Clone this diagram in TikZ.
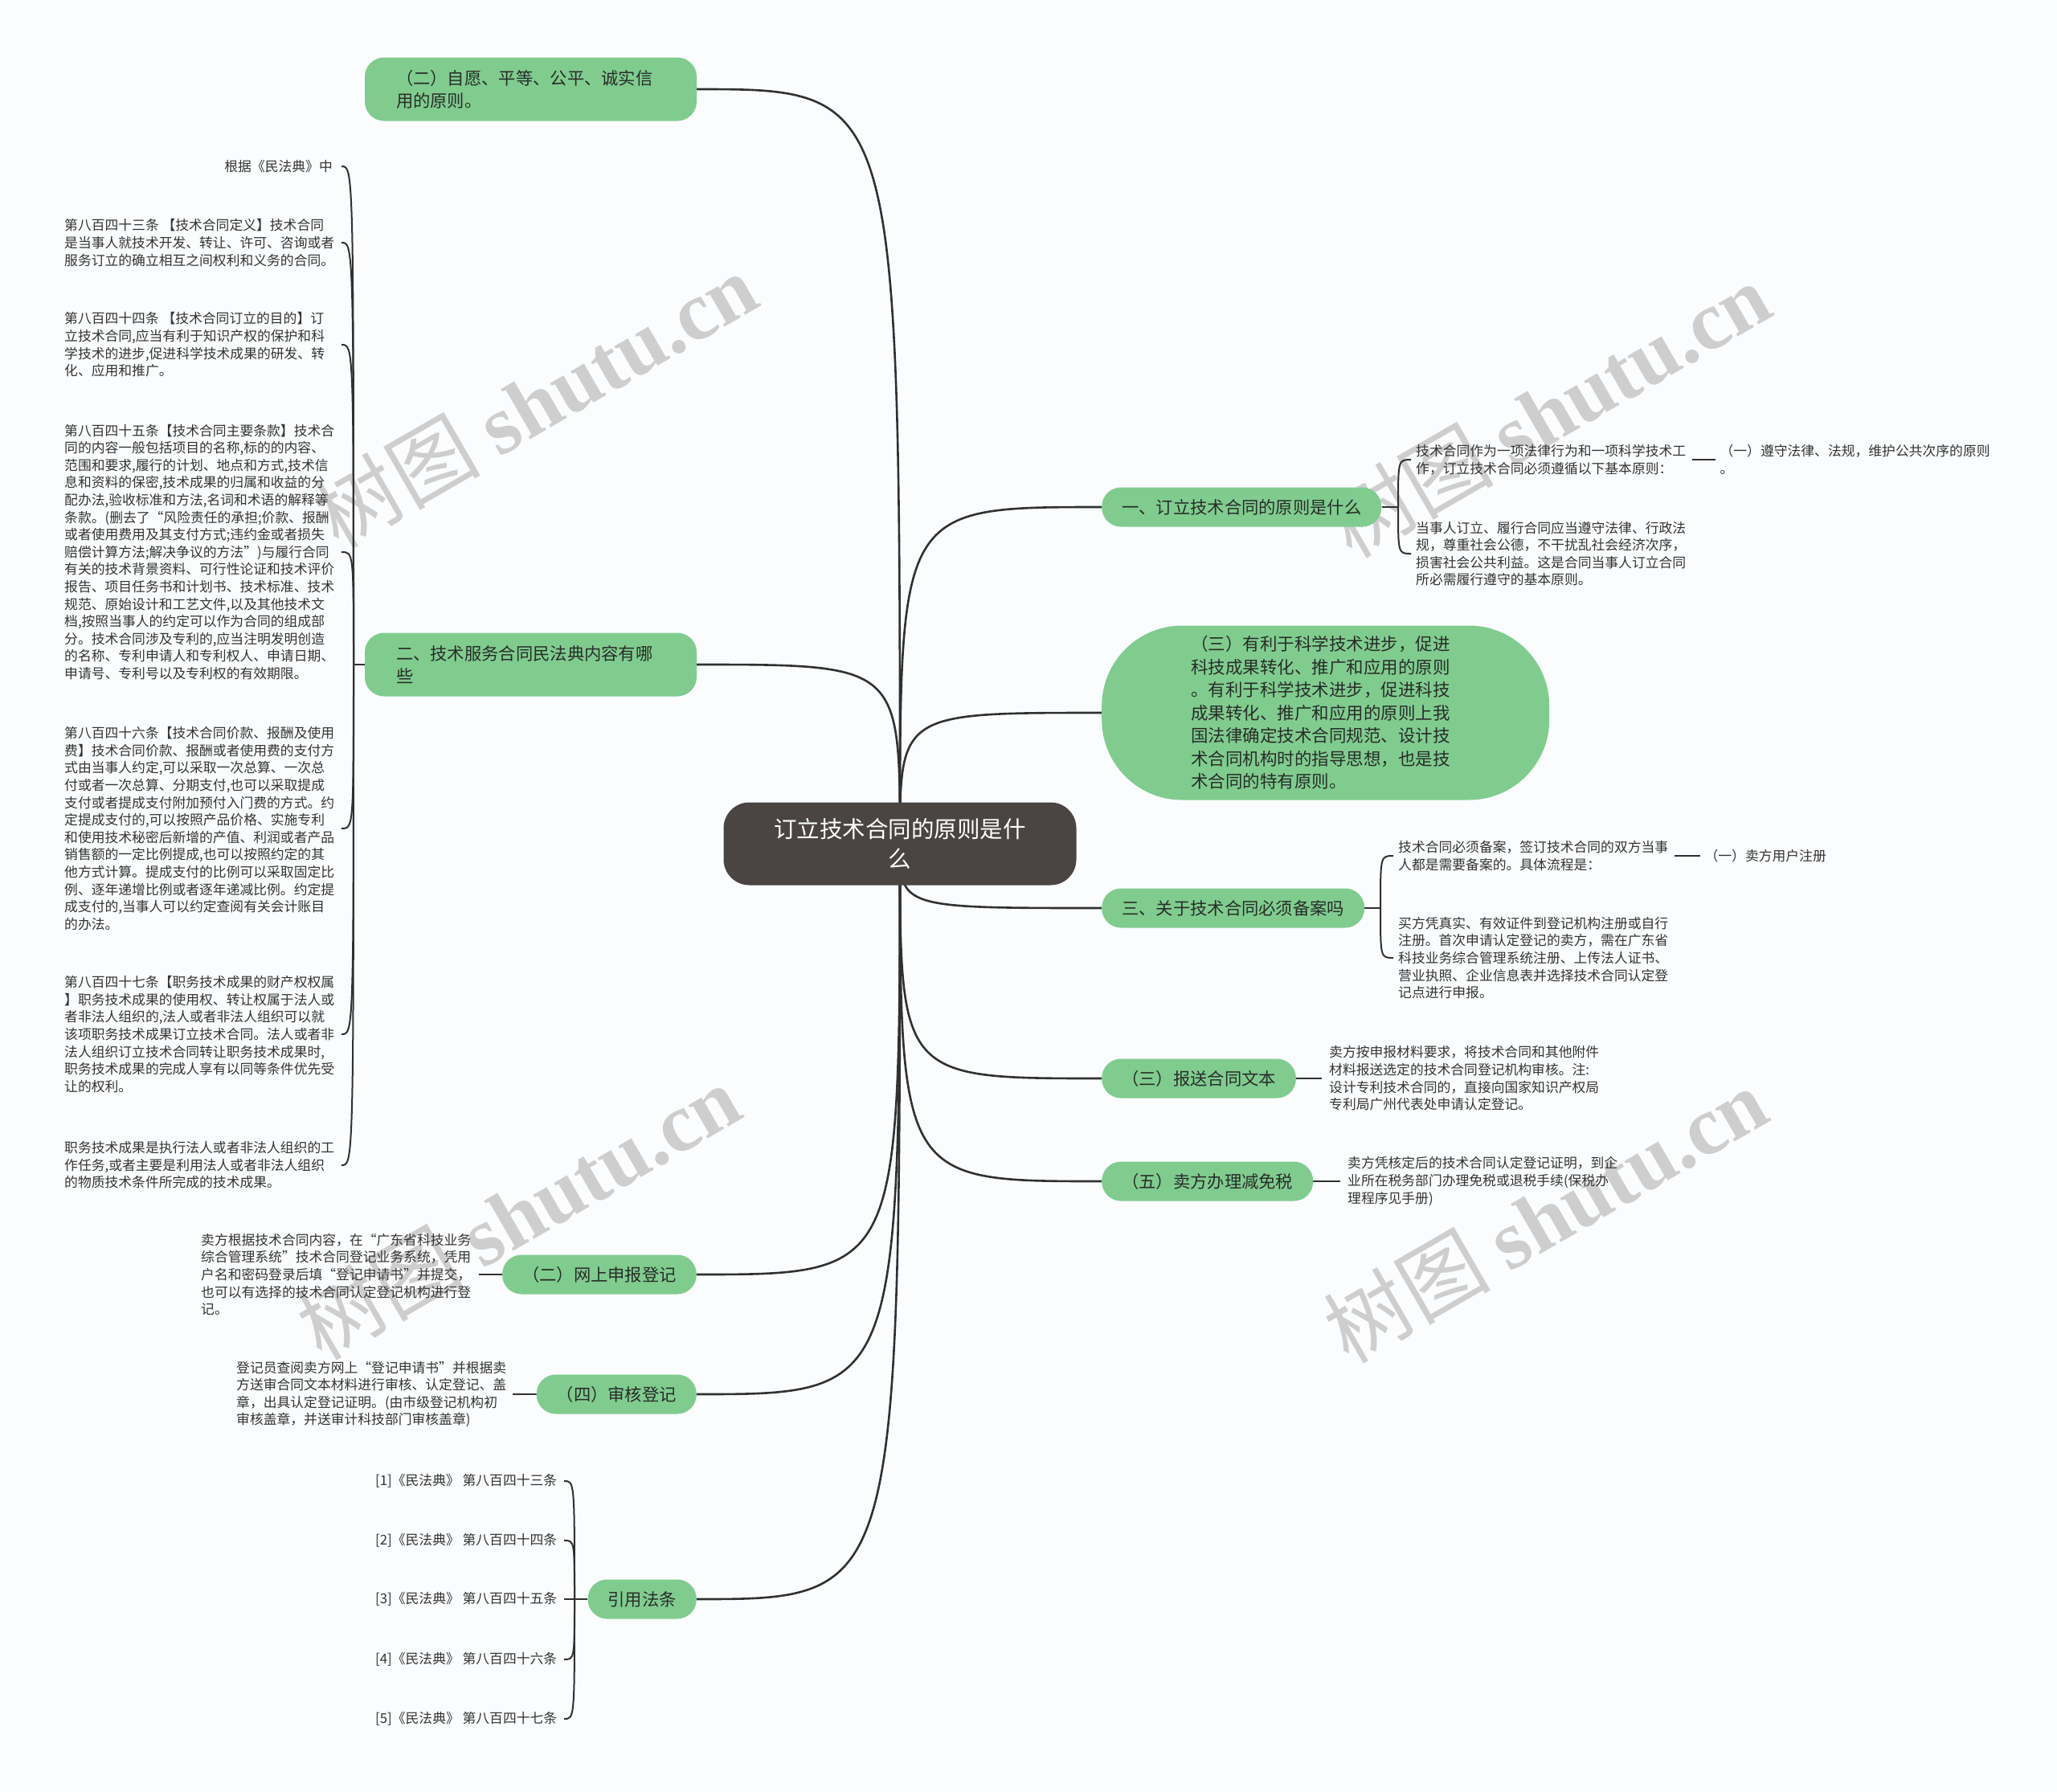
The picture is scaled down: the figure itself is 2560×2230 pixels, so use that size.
\documentclass[tikz,border=0pt]{standalone}
\usepackage{fontspec}
\setmainfont{Noto Sans CJK SC}
\newfontfamily\wmlatin{Liberation Serif}
\usetikzlibrary{positioning, backgrounds}

\definecolor{bgcol}{RGB}{250,252,253}
\definecolor{rootgray}{RGB}{74,69,67}
\definecolor{topicgreen}{RGB}{128,204,143}
\definecolor{topictext}{RGB}{40,44,40}
\definecolor{leaftext}{RGB}{51,51,51}
\definecolor{linecol}{RGB}{48,48,48}
\definecolor{wmgray}{RGB}{206,206,206}

\begin{document}
\begin{tikzpicture}[
  x=1pt, y=-1pt,
  root/.style={
    rectangle, rounded corners=32pt, fill=rootgray, text=white,
    align=center, minimum width=439pt, minimum height=103pt,
    font=\fontsize{28.5}{37.5}\selectfont
  },
  topic/.style={
    rectangle, rounded corners=24pt, fill=topicgreen, text=topictext,
    align=left, minimum height=49pt, inner xsep=25pt,
    font=\fontsize{21.3}{28}\selectfont
  },
  topicwide/.style={topic, text width=335pt, inner xsep=39pt, minimum height=79pt},
  bigtopic/.style={
    topic, rounded corners=100pt, text width=335pt, inner xsep=111pt,
    minimum height=217pt, font=\fontsize{21.5}{28.5}\selectfont
  },
  leaf/.style={
    inner sep=0pt, align=left, text=leaftext,
    font=\fontsize{16.8}{21.6}\selectfont
  },
  link/.style={draw=linecol, line width=2.6pt},
  twig/.style={draw=linecol, line width=2pt},
  wmark/.style={text=wmgray, rotate=30, font=\fontsize{104}{104}\selectfont}
]
\useasboundingbox (0,0) rectangle (2560,2230);

% root
\node[root] (root) at (1120,1050) {订立技术合同的原则是什\\么};

% left topics
\node[topicwide] (t1) at (660.5,111) {（二）自愿、平等、公平、诚实信\\用的原则。};
\node[topicwide] (t2) at (660.5,827) {二、技术服务合同民法典内容有哪\\些};
\node[topic, anchor=east] (t3) at (867,1586) {（二）网上申报登记};
\node[topic, anchor=east] (t4) at (867,1735) {（四）审核登记};
\node[topic, anchor=east] (t5) at (867,1990) {引用法条};

% right topics
\node[topic, anchor=west] (b1) at (1371,631) {一、订立技术合同的原则是什么};
\node[bigtopic, anchor=west] (b2) at (1371,887) {（三）有利于科学技术进步，促进\\科技成果转化、推广和应用的原则\\。有利于科学技术进步，促进科技\\成果转化、推广和应用的原则上我\\国法律确定技术合同规范、设计技\\术合同机构时的指导思想，也是技\\术合同的特有原则。};
\node[topic, anchor=west] (b3) at (1371,1130) {三、关于技术合同必须备案吗};
\node[topic, anchor=west] (b4) at (1371,1342) {（三）报送合同文本};
\node[topic, anchor=west] (b5) at (1371,1470) {（五）卖方办理减免税};

% leaves of t2
\node[leaf, anchor=east] (la0) at (414,207) {根据《民法典》中};
\node[leaf, anchor=west] (la1) at (80,302) {第八百四十三条 【技术合同定义】技术合同\\是当事人就技术开发、转让、许可、咨询或者\\服务订立的确立相互之间权利和义务的合同。};
\node[leaf, anchor=west] (la2) at (80,429) {第八百四十四条 【技术合同订立的目的】订\\立技术合同,应当有利于知识产权的保护和科\\学技术的进步,促进科学技术成果的研发、转\\化、应用和推广。};
\node[leaf, anchor=west] (la3) at (80,687) {第八百四十五条【技术合同主要条款】技术合\\同的内容一般包括项目的名称,标的的内容、\\范围和要求,履行的计划、地点和方式,技术信\\息和资料的保密,技术成果的归属和收益的分\\配办法,验收标准和方法,名词和术语的解释等\\条款。(删去了“风险责任的承担;价款、报酬\\或者使用费用及其支付方式;违约金或者损失\\赔偿计算方法;解决争议的方法”)与履行合同\\有关的技术背景资料、可行性论证和技术评价\\报告、项目任务书和计划书、技术标准、技术\\规范、原始设计和工艺文件,以及其他技术文\\档,按照当事人的约定可以作为合同的组成部\\分。技术合同涉及专利的,应当注明发明创造\\的名称、专利申请人和专利权人、申请日期、\\申请号、专利号以及专利权的有效期限。};
\node[leaf, anchor=west] (la4) at (80,1031) {第八百四十六条【技术合同价款、报酬及使用\\费】技术合同价款、报酬或者使用费的支付方\\式由当事人约定,可以采取一次总算、一次总\\付或者一次总算、分期支付,也可以采取提成\\支付或者提成支付附加预付入门费的方式。约\\定提成支付的,可以按照产品价格、实施专利\\和使用技术秘密后新增的产值、利润或者产品\\销售额的一定比例提成,也可以按照约定的其\\他方式计算。提成支付的比例可以采取固定比\\例、逐年递增比例或者逐年递减比例。约定提\\成支付的,当事人可以约定查阅有关会计账目\\的办法。};
\node[leaf, anchor=west] (la5) at (80,1287) {第八百四十七条【职务技术成果的财产权权属\\】职务技术成果的使用权、转让权属于法人或\\者非法人组织的,法人或者非法人组织可以就\\该项职务技术成果订立技术合同。法人或者非\\法人组织订立技术合同转让职务技术成果时,\\职务技术成果的完成人享有以同等条件优先受\\让的权利。};
\node[leaf, anchor=west] (la6) at (80,1450) {职务技术成果是执行法人或者非法人组织的工\\作任务,或者主要是利用法人或者非法人组织\\的物质技术条件所完成的技术成果。};

% leaves of t3, t4
\node[leaf, anchor=west] (lw1) at (250,1586) {卖方根据技术合同内容，在“广东省科技业务\\综合管理系统”技术合同登记业务系统，凭用\\户名和密码登录后填“登记申请书”并提交，\\也可以有选择的技术合同认定登记机构进行登\\记。};
\node[leaf, anchor=west] (lr1) at (294,1735) {登记员查阅卖方网上“登记申请书”并根据卖\\方送审合同文本材料进行审核、认定登记、盖\\章，出具认定登记证明。(由市级登记机构初\\审核盖章，并送审计科技部门审核盖章)};

% leaves of t5
\node[leaf, anchor=west] (c1) at (467,1843) {[1]《民法典》 第八百四十三条};
\node[leaf, anchor=west] (c2) at (467,1917) {[2]《民法典》 第八百四十四条};
\node[leaf, anchor=west] (c3) at (467,1990) {[3]《民法典》 第八百四十五条};
\node[leaf, anchor=west] (c4) at (467,2065) {[4]《民法典》 第八百四十六条};
\node[leaf, anchor=west] (c5) at (467,2139) {[5]《民法典》 第八百四十七条};

% leaves of b1
\node[leaf, anchor=west] (ra1) at (1762,572) {技术合同作为一项法律行为和一项科学技术工\\作，订立技术合同必须遵循以下基本原则：};
\node[leaf, right=42pt of ra1] (ra1c) {（一）遵守法律、法规，维护公共次序的原则\\。};
\node[leaf, anchor=west] (ra2) at (1762,689) {当事人订立、履行合同应当遵守法律、行政法\\规，尊重社会公德，不干扰乱社会经济次序，\\损害社会公共利益。这是合同当事人订立合同\\所必需履行遵守的基本原则。};

% leaves of b3
\node[leaf, anchor=west] (rc1) at (1740,1065) {技术合同必须备案，签订技术合同的双方当事\\人都是需要备案的。具体流程是：};
\node[leaf, right=45pt of rc1] (rc1c) {（一）卖方用户注册};
\node[leaf, anchor=west] (rc2) at (1740,1192) {买方凭真实、有效证件到登记机构注册或自行\\注册。首次申请认定登记的卖方，需在广东省\\科技业务综合管理系统注册、上传法人证书、\\营业执照、企业信息表并选择技术合同认定登\\记点进行申报。};

% leaves of b4, b5
\node[leaf, anchor=west] (rd1) at (1654,1342) {卖方按申报材料要求，将技术合同和其他附件\\材料报送选定的技术合同登记机构审核。注:\\设计专利技术合同的，直接向国家知识产权局\\专利局广州代表处申请认定登记。};
\node[leaf, anchor=west] (re1) at (1677,1470) {卖方凭核定后的技术合同认定登记证明，到企\\业所在税务部门办理免税或退税手续(保税办\\理程序见手册)};

\coordinate (spt2) at (440,827);
\coordinate (lcol) at (425,0);
\coordinate (spt5) at (715,1990);
\coordinate (ccol) at (702,0);
\coordinate (spb1) at (1740,631);
\coordinate (acol) at (1756,0);
\coordinate (spb3) at (1718,1130);
\coordinate (dcol) at (1734,0);

\begin{scope}[on background layer]
\fill[bgcol] (0,0) rectangle (2560,2230);

% watermarks
\node[wmark] (wm1) at (666,498) {树图 {\wmlatin\bfseries shutu.cn}};
\node[wmark] (wm2) at (1927,510) {树图 {\wmlatin\bfseries shutu.cn}};
\node[wmark] (wm3) at (645,1508) {树图 {\wmlatin\bfseries shutu.cn}};
\node[wmark] (wm4) at (1923,1512) {树图 {\wmlatin\bfseries shutu.cn}};

% root to topics
\draw[link] (root.center) .. controls (root.center |- t1.east) .. (t1.east);
\draw[link] (root.center) .. controls (root.center |- t2.east) .. (t2.east);
\draw[link] (root.center) .. controls (root.center |- t3.east) .. (t3.east);
\draw[link] (root.center) .. controls (root.center |- t4.east) .. (t4.east);
\draw[link] (root.center) .. controls (root.center |- t5.east) .. (t5.east);
\draw[link] (root.center) .. controls (root.center |- b1.west) .. (b1.west);
\draw[link] (root.center) .. controls (root.center |- b2.west) .. (b2.west);
\draw[link] (root.center) .. controls (root.center |- b3.west) .. (b3.west);
\draw[link] (root.center) .. controls (root.center |- b4.west) .. (b4.west);
\draw[link] (root.center) .. controls (root.center |- b5.west) .. (b5.west);

% t2 brace
\draw[twig] (t2.west) -- (spt2);
\draw[twig] (spt2) .. controls (spt2 |- la0.east) .. (lcol |- la0.east);
\draw[twig] (spt2) .. controls (spt2 |- la1.west) .. (lcol |- la1.west);
\draw[twig] (spt2) .. controls (spt2 |- la2.west) .. (lcol |- la2.west);
\draw[twig] (spt2) .. controls (spt2 |- la3.west) .. (lcol |- la3.west);
\draw[twig] (spt2) .. controls (spt2 |- la4.west) .. (lcol |- la4.west);
\draw[twig] (spt2) .. controls (spt2 |- la5.west) .. (lcol |- la5.west);
\draw[twig] (spt2) .. controls (spt2 |- la6.west) .. (lcol |- la6.west);

% t3, t4
\draw[twig] ([xshift=10pt]lw1.east) -- (t3.west);
\draw[twig] ([xshift=8pt]lr1.east) -- (t4.west);

% t5 brace
\draw[twig] (t5.west) -- (spt5);
\draw[twig] (spt5) .. controls (spt5 |- c1.west) .. (ccol |- c1.west);
\draw[twig] (spt5) .. controls (spt5 |- c2.west) .. (ccol |- c2.west);
\draw[twig] (spt5) -- (ccol |- c3.west);
\draw[twig] (spt5) .. controls (spt5 |- c4.west) .. (ccol |- c4.west);
\draw[twig] (spt5) .. controls (spt5 |- c5.west) .. (ccol |- c5.west);

% b1 brace
\draw[twig] (b1.east) -- (spb1);
\draw[twig] (spb1) .. controls (spb1 |- ra1.west) .. (acol |- ra1.west);
\draw[twig] (spb1) .. controls (spb1 |- ra2.west) .. (acol |- ra2.west);
\draw[twig] ([xshift=8pt]ra1.east) -- ([xshift=-5pt]ra1c.west);

% b3 brace
\draw[twig] (b3.east) -- (spb3);
\draw[twig] (spb3) .. controls (spb3 |- rc1.west) .. (dcol |- rc1.west);
\draw[twig] (spb3) .. controls (spb3 |- rc2.west) .. (dcol |- rc2.west);
\draw[twig] ([xshift=8pt]rc1.east) -- ([xshift=-5pt]rc1c.west);

% b4, b5
\draw[twig] (b4.east) -- ([xshift=-9pt]rd1.west);
\draw[twig] (b5.east) -- ([xshift=-9pt]re1.west);
\end{scope}
\end{tikzpicture}
\end{document}
